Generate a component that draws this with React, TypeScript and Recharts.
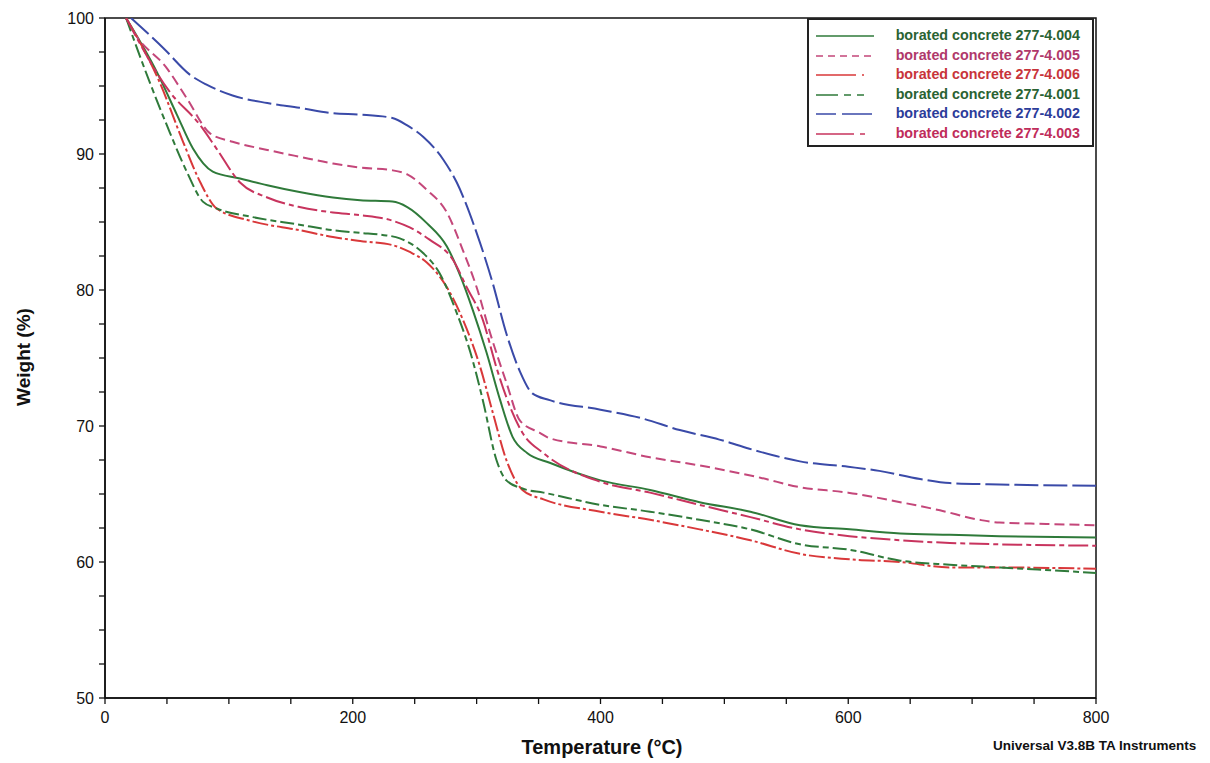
import React from 'react';
import { LineChart, Line, XAxis, YAxis, ReferenceArea, Legend } from 'recharts';

// ---- Data ----
const temp004 = [17, 42, 58, 71, 87, 109, 131, 157, 184, 206, 232, 244, 260, 276, 287, 297, 308, 319, 329, 341, 359, 400, 440, 480, 521, 561, 601, 642, 682, 722, 800];
const weight004 = [100, 96.0, 92.9, 90.4, 88.7, 88.2, 87.7, 87.2, 86.8, 86.6, 86.5, 86.1, 84.9, 83.2, 81.0, 78.5, 75.4, 71.9, 69.2, 68.0, 67.3, 66.0, 65.3, 64.4, 63.7, 62.7, 62.4, 62.1, 62.0, 61.9, 61.8];

const temp005 = [17, 23, 50, 66, 85, 103, 131, 157, 184, 206, 232, 244, 260, 276, 289, 300, 311, 324, 335, 351, 359, 400, 440, 480, 529, 561, 600, 642, 674, 706, 722, 760, 800];
const weight005 = [100, 99.0, 96.3, 94.1, 91.5, 90.9, 90.3, 89.8, 89.3, 89.0, 88.8, 88.5, 87.35, 85.7, 82.9, 80.2, 76.8, 73.2, 70.4, 69.5, 69.1, 68.5, 67.7, 67.1, 66.2, 65.5, 65.1, 64.4, 63.8, 63.1, 62.9, 62.8, 62.7];

const temp006 = [17, 44, 63, 77, 90, 117, 157, 184, 206, 232, 246, 260, 276, 289, 303, 313, 324, 337, 354, 400, 440, 480, 521, 561, 601, 642, 682, 722, 800];
const weight006 = [100, 95.3, 90.9, 87.9, 86.0, 85.1, 84.4, 83.9, 83.6, 83.3, 82.8, 82.0, 80.2, 77.8, 74.3, 71.0, 67.5, 65.3, 64.6, 63.7, 63.1, 62.4, 61.6, 60.6, 60.2, 60.0, 59.6, 59.6, 59.5];

const temp001 = [17, 36, 50, 66, 79, 90, 117, 157, 184, 206, 224, 238, 257, 270, 284, 295, 305, 316, 324, 337, 354, 400, 440, 480, 521, 561, 601, 642, 682, 722, 800];
const weight001 = [100, 95.3, 92.1, 88.7, 86.5, 86.0, 85.4, 84.8, 84.4, 84.2, 84.05, 83.8, 82.7, 81.25, 78.3, 75.4, 71.9, 67.5, 66.0, 65.4, 65.1, 64.2, 63.7, 63.1, 62.4, 61.3, 60.9, 60.1, 59.8, 59.6, 59.2];

const temp002 = [21, 47, 69, 82, 103, 131, 157, 184, 206, 232, 244, 257, 273, 284, 300, 313, 324, 335, 345, 359, 400, 432, 464, 496, 529, 561, 600, 625, 658, 682, 722, 800];
const weight002 = [100, 97.8, 95.8, 95.1, 94.3, 93.75, 93.4, 93.0, 92.9, 92.65, 92.1, 91.25, 89.6, 87.9, 84.2, 80.5, 76.8, 74.0, 72.4, 71.9, 71.2, 70.6, 69.7, 69.0, 68.1, 67.4, 67.0, 66.7, 66.1, 65.8, 65.7, 65.6];

const temp003 = [17, 52, 77, 90, 109, 131, 157, 184, 206, 232, 246, 262, 281, 292, 305, 316, 327, 337, 354, 400, 440, 480, 521, 561, 601, 642, 682, 722, 800];
const weight003 = [100, 94.6, 92.1, 90.4, 87.9, 86.8, 86.1, 85.7, 85.5, 85.1, 84.6, 83.7, 82.2, 80.2, 77.8, 74.3, 71.4, 69.5, 68.0, 65.9, 65.1, 64.2, 63.3, 62.4, 61.9, 61.6, 61.4, 61.3, 61.2];

const seriesNames = [
  'borated concrete 277-4.004',
  'borated concrete 277-4.005',
  'borated concrete 277-4.006',
  'borated concrete 277-4.001',
  'borated concrete 277-4.002',
  'borated concrete 277-4.003',
];

const xTicks = [0, 50, 100, 150, 200, 250, 300, 350, 400, 450, 500, 550, 600, 650, 700, 750, 800];
const xLabelTicks = [0, 200, 400, 600, 800];
const yTicks = [50, 52.5, 55, 57.5, 60, 62.5, 65, 67.5, 70, 72.5, 75, 77.5, 80, 82.5, 85, 87.5, 90, 92.5, 95, 97.5, 100];
const yLabelTicks = [50, 60, 70, 80, 90, 100];

const xTitle = 'Temperature (°C)';
const yTitle = 'Weight (%)';
const footnote = 'Universal V3.8B TA Instruments';

// ---- Build series ----
const zip = (ts: number[], ws: number[]) => ts.map((t, i) => ({ t, w: ws[i] }));

const styles = [
  { color: '#2f7a3a', text: '#2a6232', dash: undefined, legendDash: undefined },
  { color: '#c4477a', text: '#b0386a', dash: '10 5', legendDash: '7 5' },
  { color: '#d9383a', text: '#c8343a', dash: '16 3 3 3', legendDash: '40 6 2 10' },
  { color: '#2f7a3a', text: '#2a6232', dash: '14 4 6 4', legendDash: '22 6 7 6 7 10' },
  { color: '#3a4aa8', text: '#2c3c9a', dash: '24 5', legendDash: '20 6 30 10' },
  { color: '#c8345e', text: '#c02c5a', dash: '20 4 5 4', legendDash: '38 6 5 10' },
];

const seriesData = [
  zip(temp004, weight004),
  zip(temp005, weight005),
  zip(temp006, weight006),
  zip(temp001, weight001),
  zip(temp002, weight002),
  zip(temp003, weight003),
];

const FONT = '"Liberation Sans", Arial, sans-serif';

const XTick = (props: any) => {
  const { x, y, payload } = props;
  const v = payload.value;
  return (
    <g>
      <line x1={x} y1={y} x2={x} y2={y + 6} stroke="#111" strokeWidth={1.3} />
      {xLabelTicks.includes(v) && (
        <text x={x} y={y + 25} textAnchor="middle" fontSize={16} fill="#111" fontFamily={FONT}>
          {v}
        </text>
      )}
    </g>
  );
};

const YTick = (props: any) => {
  const { x, y, payload } = props;
  const v = payload.value;
  return (
    <g>
      <line x1={x - 6} y1={y} x2={x} y2={y} stroke="#111" strokeWidth={1.3} />
      {yLabelTicks.includes(v) && (
        <text x={x - 11} y={y + 6} textAnchor="end" fontSize={16} fill="#111" fontFamily={FONT}>
          {v}
        </text>
      )}
    </g>
  );
};

const LegendBox = () => (
  <div
    style={{
      width: 287,
      height: 129,
      boxSizing: 'border-box',
      border: '2px solid #222',
      background: '#fff',
      paddingTop: 6,
      fontFamily: FONT,
    }}
  >
    {seriesNames.map((name, i) => (
      <div key={name} style={{ display: 'flex', alignItems: 'center', height: 19.6, position: 'relative' }}>
        <svg width={60} height={10} style={{ position: 'absolute', left: 7, top: 5 }}>
          <line
            x1={0}
            y1={5}
            x2={58}
            y2={5}
            stroke={styles[i].color}
            strokeWidth={1.6}
            strokeDasharray={styles[i].legendDash}
          />
        </svg>
        <span
          style={{
            position: 'absolute',
            right: 12,
            top: 1,
            fontSize: 14.3,
            fontWeight: 'bold',
            color: styles[i].text,
            whiteSpace: 'nowrap',
          }}
        >
          {name}
        </span>
      </div>
    ))}
  </div>
);

export default function App() {
  return (
    <div style={{ position: 'relative', width: 1194, height: 755, fontFamily: FONT, background: '#fff' }}>
      <LineChart width={1194} height={747} margin={{ top: 10, right: 106, bottom: 27, left: 0 }}>
        <XAxis
          type="number"
          dataKey="t"
          domain={[0, 800]}
          ticks={xTicks}
          interval={0}
          tick={<XTick />}
          tickLine={false}
          tickSize={0}
          tickMargin={0}
          height={30}
          axisLine={{ stroke: '#111', strokeWidth: 1.5 }}
          allowDataOverflow
        />
        <YAxis
          type="number"
          domain={[50, 100]}
          ticks={yTicks}
          interval={0}
          tick={<YTick />}
          tickLine={false}
          tickSize={0}
          tickMargin={0}
          width={97}
          axisLine={{ stroke: '#111', strokeWidth: 1.5 }}
          allowDataOverflow
        />
        <ReferenceArea x1={0} x2={800} y1={50} y2={100} fill="none" stroke="#111" strokeWidth={1.5} />
        {seriesData.map((d, i) => (
          <Line
            key={seriesNames[i]}
            data={d}
            dataKey="w"
            name={seriesNames[i]}
            type="monotone"
            stroke={styles[i].color}
            strokeWidth={2}
            strokeDasharray={styles[i].dash}
            dot={false}
            activeDot={false}
            isAnimationActive={false}
          />
        ))}
        <Legend
          layout="vertical"
          align="center"
          verticalAlign="middle"
          content={<LegendBox />}
          wrapperStyle={{ left: 799, top: 10, width: 287, height: 129 }}
        />
      </LineChart>
      <div
        style={{
          position: 'absolute',
          left: 594,
          top: 739,
          transform: 'translate(-50%, -50%)',
          fontSize: 20,
          lineHeight: '22px',
          fontWeight: 'bold',
          whiteSpace: 'nowrap',
          color: '#111',
        }}
      >
        {xTitle}
      </div>
      <div
        style={{
          position: 'absolute',
          left: 16,
          top: 349,
          transform: 'translate(-50%, -50%) rotate(-90deg)',
          fontSize: 19,
          fontWeight: 'bold',
          whiteSpace: 'nowrap',
          color: '#111',
        }}
      >
        {yTitle}
      </div>
      <div
        style={{
          position: 'absolute',
          left: 985,
          top: 737,
          transform: 'translateY(-50%)',
          fontSize: 13.5,
          fontWeight: 'bold',
          whiteSpace: 'nowrap',
          color: '#111',
        }}
      >
        {footnote}
      </div>
    </div>
  );
}
